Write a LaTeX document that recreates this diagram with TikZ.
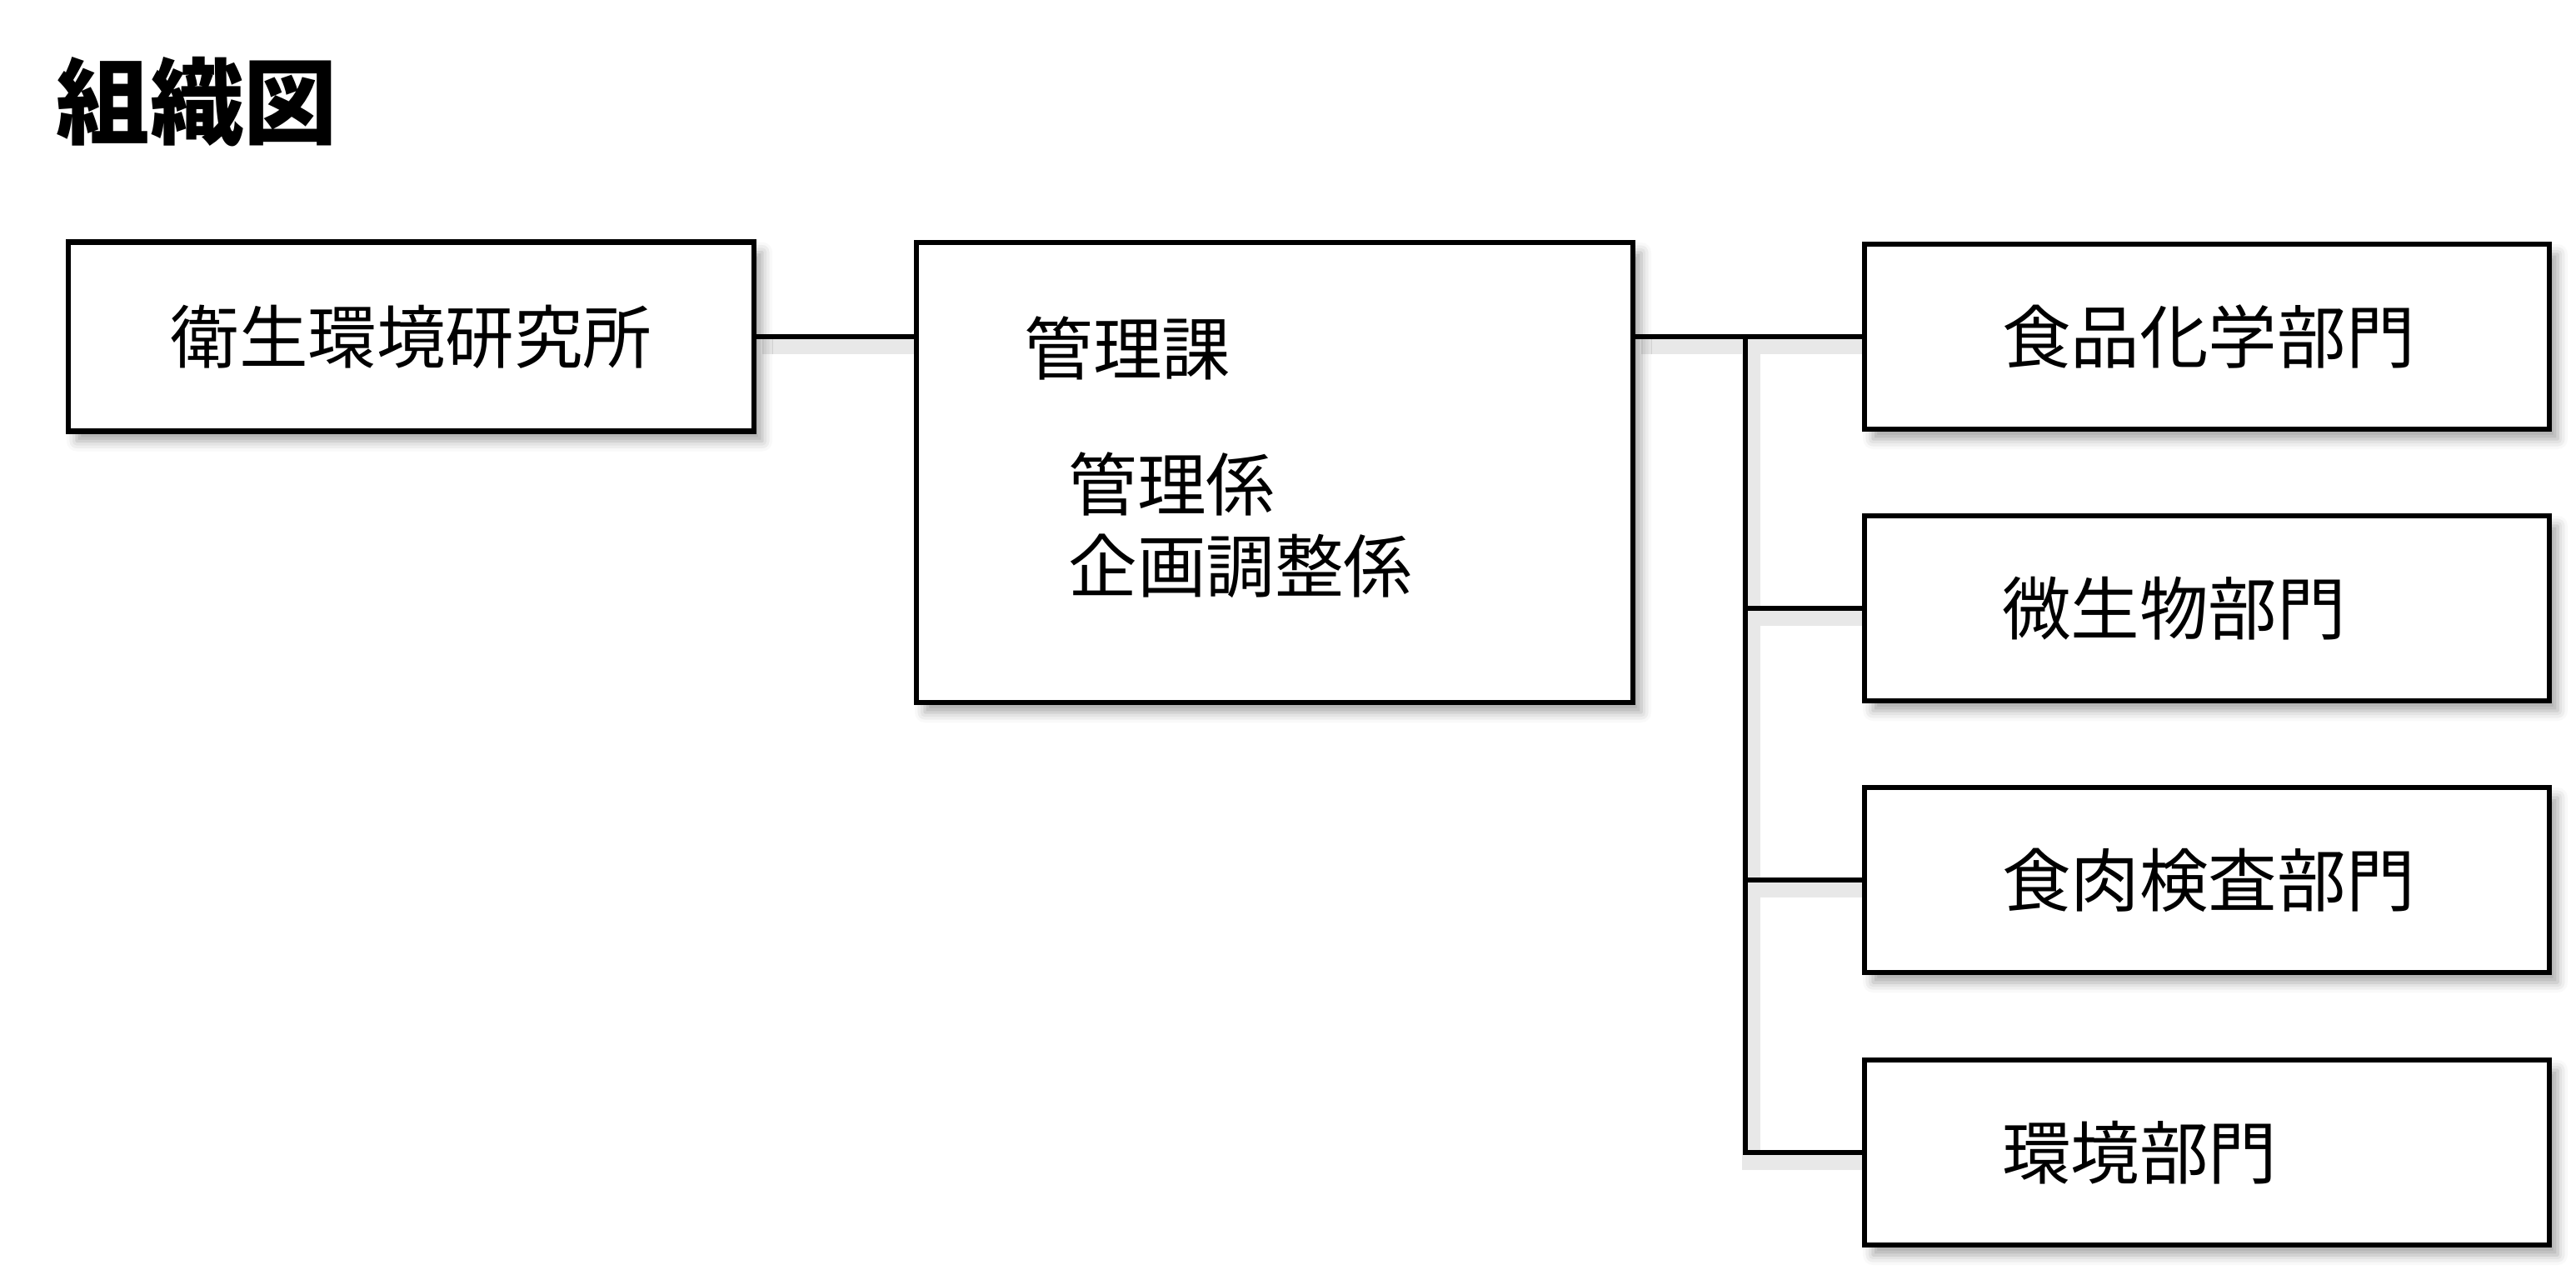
\documentclass[tikz,border=0pt]{standalone}
\usepackage{fontspec}
\setmainfont{Noto Sans CJK JP}
\usetikzlibrary{positioning,calc,backgrounds,shadows.blur}

\begin{document}
\begin{tikzpicture}[
    every node/.style={font=\fontsize{23.5}{28}\selectfont},
    unitbox/.style={draw, rectangle, line width=1.8pt, fill=white, inner sep=0pt,
        blur shadow={shadow xshift=0.1cm, shadow yshift=-0.12cm, shadow blur radius=0.12cm, shadow opacity=35}},
    deptbox/.style={unitbox, minimum height=2.22cm, text width=4.92cm, inner xsep=1.65cm, align=left},
    link/.style={line width=1.8pt,
        preaction={draw=black!9, line width=6pt, transform canvas={xshift=0.07cm, yshift=-0.1cm}}}
]
    \useasboundingbox (0,0) rectangle (30.92,-15.29);

    \node[font=\fontsize{32}{38}\selectfont\bfseries, anchor=north west, inner sep=0pt] (title) at (0.67,-0.68) {組織図};

    \node[unitbox, minimum width=8.23cm, minimum height=2.27cm] (inst) at (4.935,-4.04) {衛生環境研究所};

    \node[unitbox, minimum width=8.6cm, minimum height=5.52cm] (kanri) at (15.30,-5.67) {};
    \node[anchor=north west, inner sep=0pt] (kanrika) at ([xshift=1.32cm, yshift=-0.91cm]kanri.north west) {管理課};
    \node[anchor=north west, inner sep=0pt, align=left] (kakari) at ([xshift=1.85cm, yshift=-2.54cm]kanri.north west) {管理係\\企画調整係};

    \node[deptbox] (food) at (26.49,-4.04) {食品化学部門};
    \node[deptbox] (micro) at (26.49,-7.30) {微生物部門};
    \node[deptbox] (meat) at (26.49,-10.56) {食肉検査部門};
    \node[deptbox] (env) at (26.49,-13.83) {環境部門};

    % Connectors
    \begin{scope}[on background layer]
        \coordinate (bus) at (20.95,-4.04);
        \draw[link] (inst.east) -- (inst.east -| kanri.west);
        \draw[link] (kanri.east |- food.west) -- (food.west);
        \draw[link] (bus) -- (bus |- env.west) -- (env.west);
        \draw[link] (bus |- micro.west) -- (micro.west);
        \draw[link] (bus |- meat.west) -- (meat.west);
    \end{scope}
\end{tikzpicture}
\end{document}
